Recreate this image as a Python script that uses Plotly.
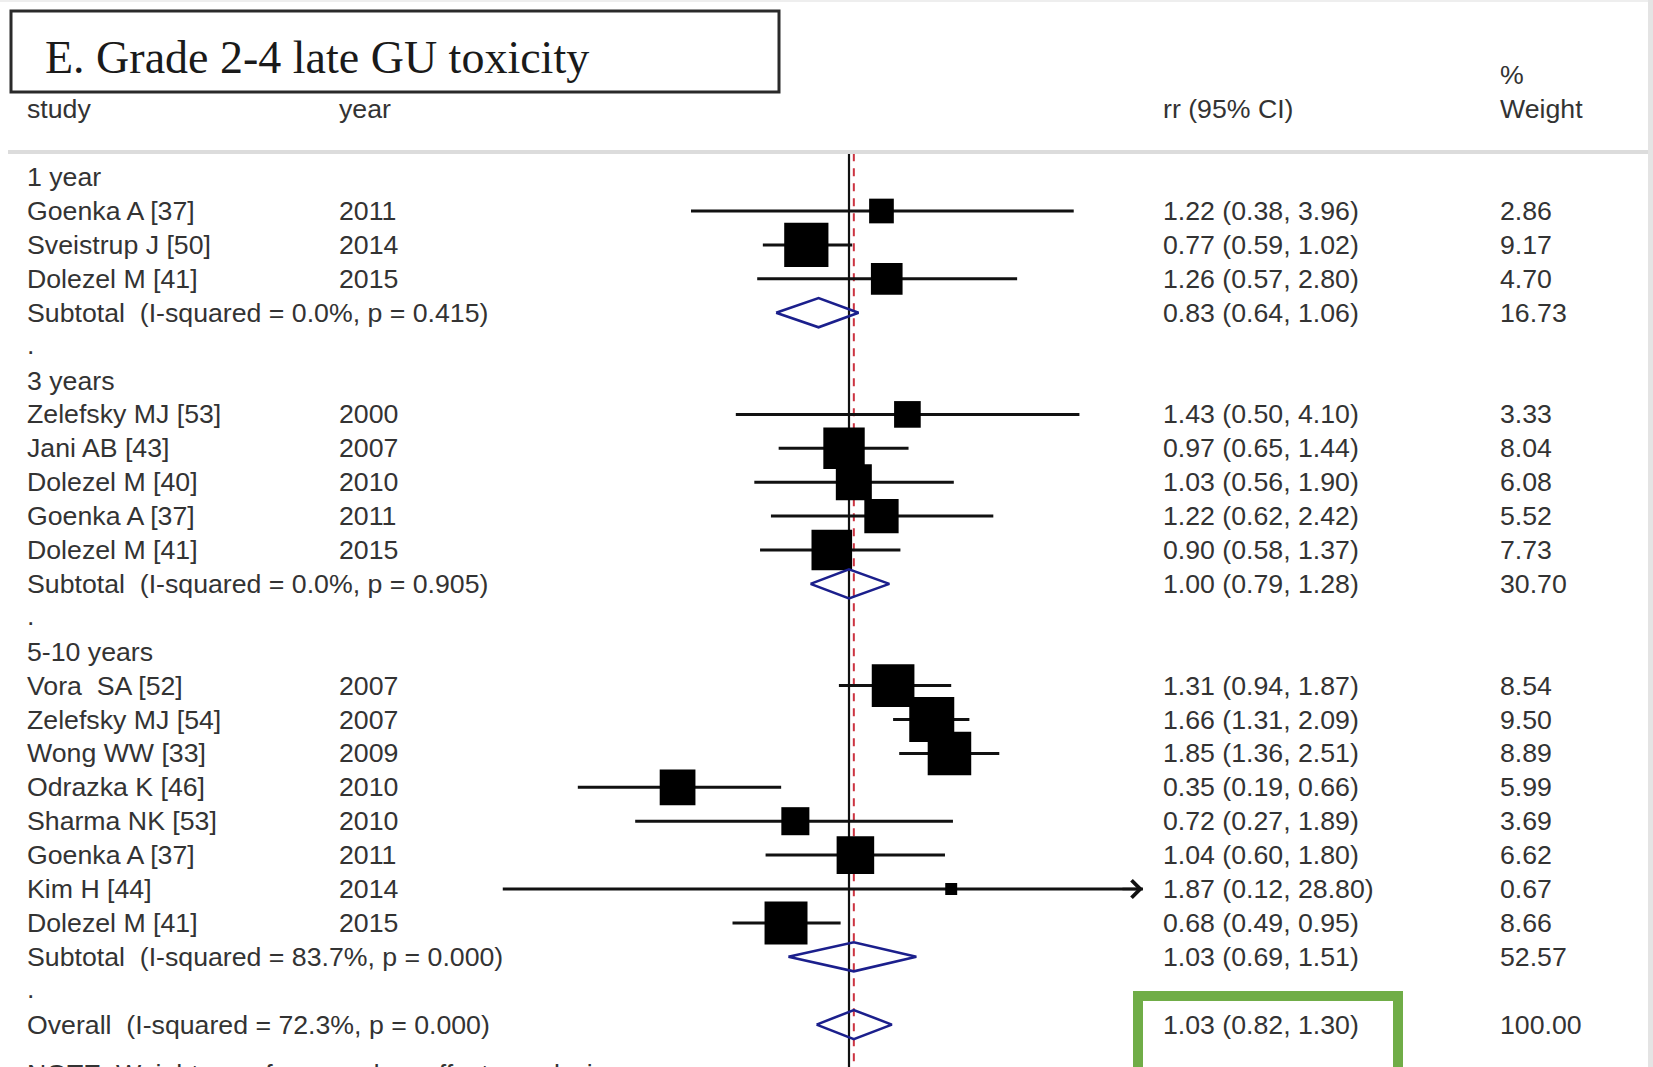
import numpy as np
import plotly.graph_objects as go

W, H = 1653, 1067

# ---------------- data ----------------
title_text = "E. Grade 2-4 late GU toxicity"
group_labels = ["1 year", "3 years", "5-10 years"]

studies_1y = ["Goenka A [37]", "Sveistrup J [50]", "Dolezel M [41]"]
years_1y = ["2011", "2014", "2015"]
rr_1y = [1.22, 0.77, 1.26]
lo_1y = [0.38, 0.59, 0.57]
hi_1y = [3.96, 1.02, 2.80]
wt_1y = [2.86, 9.17, 4.70]

studies_3y = ["Zelefsky MJ [53]", "Jani AB [43]", "Dolezel M [40]", "Goenka A [37]", "Dolezel M [41]"]
years_3y = ["2000", "2007", "2010", "2011", "2015"]
rr_3y = [1.43, 0.97, 1.03, 1.22, 0.90]
lo_3y = [0.50, 0.65, 0.56, 0.62, 0.58]
hi_3y = [4.10, 1.44, 1.90, 2.42, 1.37]
wt_3y = [3.33, 8.04, 6.08, 5.52, 7.73]

studies_510 = ["Vora\u00a0 SA [52]", "Zelefsky MJ [54]", "Wong WW [33]", "Odrazka K [46]",
               "Sharma NK [53]", "Goenka A [37]", "Kim H [44]", "Dolezel M [41]"]
years_510 = ["2007", "2007", "2009", "2010", "2010", "2011", "2014", "2015"]
rr_510 = [1.31, 1.66, 1.85, 0.35, 0.72, 1.04, 1.87, 0.68]
lo_510 = [0.94, 1.31, 1.36, 0.19, 0.27, 0.60, 0.12, 0.49]
hi_510 = [1.87, 2.09, 2.51, 0.66, 1.89, 1.80, 28.80, 0.95]
wt_510 = [8.54, 9.50, 8.89, 5.99, 3.69, 6.62, 0.67, 8.66]

sub_rr = [0.83, 1.00, 1.03]
sub_lo = [0.64, 0.79, 0.69]
sub_hi = [1.06, 1.28, 1.51]
sub_wt = [16.73, 30.70, 52.57]
sub_i2 = ["0.0%", "0.0%", "83.7%"]
sub_p = ["0.415", "0.905", "0.000"]

overall_rr, overall_lo, overall_hi = 1.03, 0.82, 1.30
overall_wt = 100.00
overall_i2, overall_p = "72.3%", "0.000"

header_cols = ["study", "year", "rr (95% CI)", "%\nWeight"]
note_text = "NOTE: Weights are from random effects analysis"
x_clip = 6.05  # upper limit of the plotted scale (arrow)

# ---------------- styling / layout constants ----------------
ROW0_PX, ROW_PX = 177.1, 33.9
X_NULL_PX, PX_PER_DEC = 849.0, 376.0
FONT = "Liberation Sans, Arial, sans-serif"
FS = 26.7
TXT = "#333333"
COL_STUDY, COL_YEAR, COL_RR, COL_WT = 25, 337, 1160.5, 1497.5
NAVY = "#1b1f8c"
RED = "#cc3340"


def px_x(p):
    return p / W


def px_y(p):
    return 1 - p / H


fig = go.Figure()
ann = []


def text(row, col_px, s, **kw):
    ann.append(dict(x=px_x(col_px), y=row, xref="paper", yref="y", text=s,
                    showarrow=False, xanchor="left", yanchor="middle",
                    font=dict(family=FONT, size=FS, color=TXT), **kw))


groups = [
    (studies_1y, years_1y, rr_1y, lo_1y, hi_1y, wt_1y),
    (studies_3y, years_3y, rr_3y, lo_3y, hi_3y, wt_3y),
    (studies_510, years_510, rr_510, lo_510, hi_510, wt_510),
]

row = 0
est_x, est_y, est_size = [], [], []
ci_x, ci_y = [], []
dia_x, dia_y = [], []
DH = 0.43  # diamond half height in rows


def add_diamond(r, est, lo, hi):
    dia_x.extend([lo, est, hi, est, lo, None])
    dia_y.extend([r, r - DH, r, r + DH, r, None])


arrow_rows = []
for g, (st, yr, rr, lo, hi, wt) in enumerate(groups):
    text(row, COL_STUDY, group_labels[g])
    row += 1
    for i in range(len(st)):
        text(row, COL_STUDY, st[i])
        text(row, COL_YEAR, yr[i])
        text(row, COL_RR, f"{rr[i]:.2f} ({lo[i]:.2f}, {hi[i]:.2f})")
        text(row, COL_WT, f"{wt[i]:.2f}")
        est_x.append(rr[i])
        est_y.append(row)
        est_size.append(14.6 * np.sqrt(wt[i]))
        h = min(hi[i], x_clip)
        if hi[i] > x_clip:
            arrow_rows.append(row)
        ci_x.extend([lo[i], h, None])
        ci_y.extend([row, row, None])
        row += 1
    text(row, COL_STUDY, f"Subtotal\u00a0 (I-squared = {sub_i2[g]}, p = {sub_p[g]})")
    text(row, COL_RR, f"{sub_rr[g]:.2f} ({sub_lo[g]:.2f}, {sub_hi[g]:.2f})")
    text(row, COL_WT, f"{sub_wt[g]:.2f}")
    add_diamond(row, sub_rr[g], sub_lo[g], sub_hi[g])
    row += 1
    text(row - 0.05, COL_STUDY, ".")
    row += 1

overall_row = row
text(overall_row, COL_STUDY, f"Overall\u00a0 (I-squared = {overall_i2}, p = {overall_p})")
text(overall_row, COL_RR, f"{overall_rr:.2f} ({overall_lo:.2f}, {overall_hi:.2f})")
text(overall_row, COL_WT, f"{overall_wt:.2f}")
add_diamond(overall_row, overall_rr, overall_lo, overall_hi)

# note (sits partly below the bottom edge, as in the source image)
note_px = ROW0_PX + ROW_PX * (overall_row + 1.45)
ann.append(dict(x=px_x(COL_STUDY), y=px_y(note_px), xref="paper", yref="paper", text=note_text,
                showarrow=False, xanchor="left", yanchor="middle",
                font=dict(family=FONT, size=FS, color=TXT)))

# headers
text(-2, COL_STUDY, header_cols[0])
text(-2, COL_YEAR, header_cols[1])
text(-2, COL_RR, header_cols[2])
text(-3, COL_WT, header_cols[3].split("\n")[0])
text(-2, COL_WT, header_cols[3].split("\n")[1])

# null line and overall-effect dashed line
line_top, line_bot = -0.7, overall_row + 3
fig.add_trace(go.Scatter(x=[1, 1], y=[line_top, line_bot], mode="lines",
                         line=dict(color="#111111", width=2.2), hoverinfo="skip"))
fig.add_trace(go.Scatter(x=[overall_rr, overall_rr], y=[line_top, line_bot], mode="lines",
                         line=dict(color=RED, width=2, dash="8px,7px"), hoverinfo="skip"))

# CI lines
fig.add_trace(go.Scatter(x=ci_x, y=ci_y, mode="lines",
                         line=dict(color="#111111", width=3), hoverinfo="skip"))
# weight squares
fig.add_trace(go.Scatter(x=est_x, y=est_y, mode="markers",
                         marker=dict(symbol="square", size=est_size, color="#000000",
                                     opacity=1, line=dict(width=0)), hoverinfo="skip"))
# diamonds
fig.add_trace(go.Scatter(x=dia_x, y=dia_y, mode="lines",
                         line=dict(color=NAVY, width=2.6), hoverinfo="skip"))

# arrows for clipped CIs
for r in arrow_rows:
    ann.append(dict(x=np.log10(x_clip), y=r, xref="x", yref="y", ax=-22, ay=0,
                    axref="pixel", ayref="pixel", text="", showarrow=True,
                    arrowhead=4, arrowsize=1.4, arrowwidth=2.4, arrowcolor="#111111"))

# title
ann.append(dict(x=px_x(43), y=px_y(57), xref="paper", yref="paper", text=title_text,
                showarrow=False, xanchor="left", yanchor="middle",
                font=dict(family="Liberation Serif, Times New Roman, serif", size=46, color="#1a1a1a")))

shapes = [
    # title box
    dict(type="rect", xref="paper", yref="paper", x0=px_x(11), x1=px_x(779),
         y0=px_y(11), y1=px_y(92), line=dict(color="#2a2a2a", width=3)),
    # header rule
    dict(type="line", xref="paper", yref="paper", x0=px_x(8), x1=px_x(1648),
         y0=px_y(152), y1=px_y(152), line=dict(color="#dcdcdc", width=4)),
    # top faint rule
    dict(type="line", xref="paper", yref="paper", x0=0, x1=1,
         y0=px_y(1), y1=px_y(1), line=dict(color="#eeeeee", width=2)),
    # right gray strip
    dict(type="rect", xref="paper", yref="paper", x0=px_x(1648), x1=1,
         y0=0, y1=1, line=dict(width=0), fillcolor="#e4e4e4"),
    # green highlight box
    dict(type="rect", xref="paper", yref="paper", x0=px_x(1138), x1=px_x(1398),
         y0=px_y(996), y1=px_y(1075), line=dict(color="#70ad47", width=10)),
]

y_top = -ROW0_PX / ROW_PX
y_bot = (H - ROW0_PX) / ROW_PX
x_lo = -X_NULL_PX / PX_PER_DEC
x_hi = (W - X_NULL_PX) / PX_PER_DEC

fig.update_layout(
    width=W, height=H, margin=dict(l=0, r=0, t=0, b=0),
    paper_bgcolor="white", plot_bgcolor="white", showlegend=False,
    xaxis=dict(type="log", range=[x_lo, x_hi], visible=False, domain=[0, 1], fixedrange=True),
    yaxis=dict(range=[y_bot, y_top], visible=False, domain=[0, 1], fixedrange=True),
    annotations=ann, shapes=shapes,
)

fig.write_html("out.html")
